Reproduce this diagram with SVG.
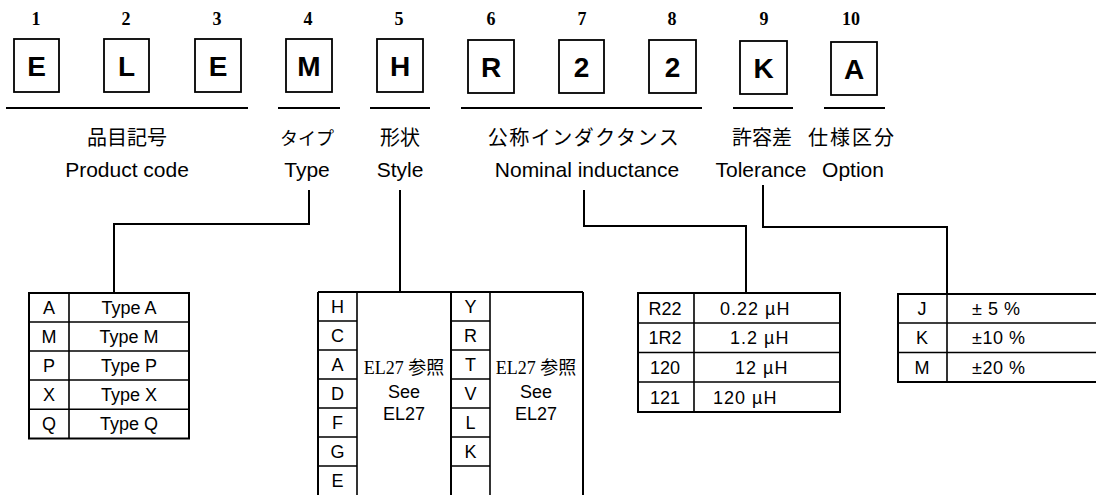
<svg xmlns="http://www.w3.org/2000/svg" width="1096" height="495" viewBox="0 0 1096 495">
<style>
.box{fill:#fff;stroke:#000;stroke-width:1.8}
.bl{font-family:"Liberation Sans",Arial,sans-serif;font-weight:bold;font-size:28px;text-anchor:middle;fill:#000}
.num{font-family:"Liberation Serif","Times New Roman",serif;font-weight:bold;font-size:18px;text-anchor:middle;fill:#000}
.ul{stroke:#000;stroke-width:2}
.jp{font-family:"Noto Sans CJK JP",sans-serif;font-size:20px;text-anchor:middle;fill:#000}
.en{font-family:"Liberation Sans",Arial,sans-serif;font-size:21px;text-anchor:middle;fill:#000}
.conn{fill:none;stroke:#000;stroke-width:2}
.tb{fill:none;stroke:#000;stroke-width:2}
.tl{stroke:#000;stroke-width:1.6}
.t{font-family:"Liberation Sans",Arial,sans-serif;font-size:18px;text-anchor:middle;fill:#000}
.ts{font-family:"Liberation Sans",Arial,sans-serif;font-size:18px;fill:#000}
.sr{font-family:"Liberation Serif","Noto Sans CJK JP",serif;font-size:18px;text-anchor:middle;fill:#000}
</style>
<rect width="1096" height="495" fill="#fff"/>

<g id="digit-1"><text class="num" x="36" y="25">1</text><rect class="box" x="14" y="39" width="45" height="53"/><text class="bl" x="36.5" y="76">E</text></g>
<g id="digit-2"><text class="num" x="126" y="25">2</text><rect class="box" x="104" y="39" width="45" height="53"/><text class="bl" x="126.5" y="76">L</text></g>
<g id="digit-3"><text class="num" x="217" y="25">3</text><rect class="box" x="195" y="39" width="46" height="53"/><text class="bl" x="218" y="76">E</text></g>
<g id="digit-4"><text class="num" x="308" y="25">4</text><rect class="box" x="286" y="39" width="46" height="53"/><text class="bl" x="309" y="76">M</text></g>
<g id="digit-5"><text class="num" x="399" y="25">5</text><rect class="box" x="377" y="39" width="46" height="53"/><text class="bl" x="400" y="76">H</text></g>
<g id="digit-6"><text class="num" x="491" y="25">6</text><rect class="box" x="468" y="40" width="46" height="53"/><text class="bl" x="491" y="77">R</text></g>
<g id="digit-7"><text class="num" x="582" y="25">7</text><rect class="box" x="559" y="40" width="45" height="53"/><text class="bl" x="581.5" y="77">2</text></g>
<g id="digit-8"><text class="num" x="672" y="25">8</text><rect class="box" x="649" y="40" width="47" height="53"/><text class="bl" x="672.5" y="77">2</text></g>
<g id="digit-9"><text class="num" x="764" y="25">9</text><rect class="box" x="740" y="41" width="47" height="53"/><text class="bl" x="763.5" y="78">K</text></g>
<g id="digit-10"><text class="num" x="851" y="25">10</text><rect class="box" x="831" y="42" width="46" height="53"/><text class="bl" x="854" y="79">A</text></g>

<g id="label-product">
<line class="ul" x1="6" y1="108" x2="248" y2="108"/>
<text class="jp" x="127" y="145">品目記号</text>
<text class="en" x="127" y="177">Product code</text>
</g>
<g id="label-type">
<line class="ul" x1="278" y1="108" x2="340" y2="108"/>
<text class="jp" x="307" y="145" style="font-size:18px">タイプ</text>
<text class="en" x="307" y="177">Type</text>
</g>
<g id="label-style">
<line class="ul" x1="370" y1="108" x2="430" y2="108"/>
<text class="jp" x="400" y="145">形状</text>
<text class="en" x="400" y="177">Style</text>
</g>
<g id="label-inductance">
<line class="ul" x1="461" y1="108" x2="702" y2="108"/>
<text class="jp" x="584" y="145" style="letter-spacing:1.5px">公称インダクタンス</text>
<text class="en" x="587" y="177">Nominal inductance</text>
</g>
<g id="label-tolerance">
<line class="ul" x1="733" y1="108" x2="793" y2="108"/>
<text class="jp" x="762" y="145">許容差</text>
<text class="en" x="761" y="177">Tolerance</text>
</g>
<g id="label-option">
<line class="ul" x1="824" y1="108" x2="885" y2="108"/>
<text class="jp" x="852" y="145" style="letter-spacing:2px">仕様区分</text>
<text class="en" x="853" y="177">Option</text>
</g>

<g id="connectors">
<path class="conn" d="M309 190 V224 H114 V293"/>
<path class="conn" d="M400 190 V292"/>
<path class="conn" d="M584 190 V226 H746 V293"/>
<path class="conn" d="M763 185 V227 H947 V294"/>
</g>

<g id="table-type">
<rect class="tb" x="29" y="293" width="160" height="145.5"/>
<line class="tl" x1="69" y1="293" x2="69" y2="438.5"/>
<line class="tl" x1="29" y1="322" x2="189" y2="322"/>
<line class="tl" x1="29" y1="351" x2="189" y2="351"/>
<line class="tl" x1="29" y1="380" x2="189" y2="380"/>
<line class="tl" x1="29" y1="409.3" x2="189" y2="409.3"/>
<text class="t" x="49" y="314">A</text><text class="t" x="129" y="314">Type A</text>
<text class="t" x="49" y="343">M</text><text class="t" x="129" y="343">Type M</text>
<text class="t" x="49" y="372">P</text><text class="t" x="129" y="372">Type P</text>
<text class="t" x="49" y="401">X</text><text class="t" x="129" y="401">Type X</text>
<text class="t" x="49" y="430">Q</text><text class="t" x="129" y="430">Type Q</text>
</g>

<g id="table-style">
<line class="tb" x1="318" y1="292" x2="583" y2="292"/>
<line class="tb" x1="318" y1="292" x2="318" y2="500"/>
<line class="tl" x1="357" y1="292" x2="357" y2="500"/>
<line class="tb" x1="451" y1="292" x2="451" y2="500"/>
<line class="tl" x1="490" y1="292" x2="490" y2="500"/>
<line class="tb" x1="583" y1="292" x2="583" y2="500"/>
<path class="tl" d="M318 321H357M318 350H357M318 379H357M318 408H357M318 437H357M318 466H357M451 321H490M451 350H490M451 379H490M451 408H490M451 437H490M451 466H490"/>
<text class="t" x="337.5" y="313">H</text>
<text class="t" x="337.5" y="342">C</text>
<text class="t" x="337.5" y="371">A</text>
<text class="t" x="337.5" y="400">D</text>
<text class="t" x="337.5" y="429">F</text>
<text class="t" x="337.5" y="458">G</text>
<text class="t" x="337.5" y="487">E</text>
<text class="t" x="470.5" y="313">Y</text>
<text class="t" x="470.5" y="342">R</text>
<text class="t" x="470.5" y="371">T</text>
<text class="t" x="470.5" y="400">V</text>
<text class="t" x="470.5" y="429">L</text>
<text class="t" x="470.5" y="458">K</text>
<text class="sr" x="404" y="374">EL27 参照</text>
<text class="t" x="404" y="398">See</text>
<text class="t" x="404" y="420">EL27</text>
<text class="sr" x="536" y="374">EL27 参照</text>
<text class="t" x="536" y="398">See</text>
<text class="t" x="536" y="420">EL27</text>
</g>

<g id="table-inductance">
<rect class="tb" x="638" y="293" width="202" height="119"/>
<line class="tl" x1="694" y1="293" x2="694" y2="412"/>
<line class="tl" x1="638" y1="323" x2="840" y2="323"/>
<line class="tl" x1="638" y1="352.5" x2="840" y2="352.5"/>
<line class="tl" x1="638" y1="382" x2="840" y2="382"/>
<text class="t" x="665" y="315">R22</text><text class="ts" x="720" y="315" style="letter-spacing:1px">0.22 µH</text>
<text class="t" x="665" y="344">1R2</text><text class="ts" x="730" y="344" style="letter-spacing:1px">1.2 µH</text>
<text class="t" x="665" y="374">120</text><text class="ts" x="735" y="374" style="letter-spacing:1px">12 µH</text>
<text class="t" x="665" y="404">121</text><text class="ts" x="713" y="404" style="letter-spacing:1px">120 µH</text>
</g>

<g id="table-tolerance">
<path class="tb" d="M1100 294 H898 V382 H1100"/>
<line class="tl" x1="947" y1="294" x2="947" y2="382"/>
<line class="tl" x1="898" y1="323" x2="1100" y2="323"/>
<line class="tl" x1="898" y1="352.5" x2="1100" y2="352.5"/>
<text class="t" x="922" y="315">J</text><text class="ts" x="972" y="315" style="letter-spacing:0.5px">± 5 %</text>
<text class="t" x="922" y="344">K</text><text class="ts" x="972" y="344" style="letter-spacing:0.5px">±10 %</text>
<text class="t" x="922" y="374">M</text><text class="ts" x="972" y="374" style="letter-spacing:0.5px">±20 %</text>
</g>
</svg>
